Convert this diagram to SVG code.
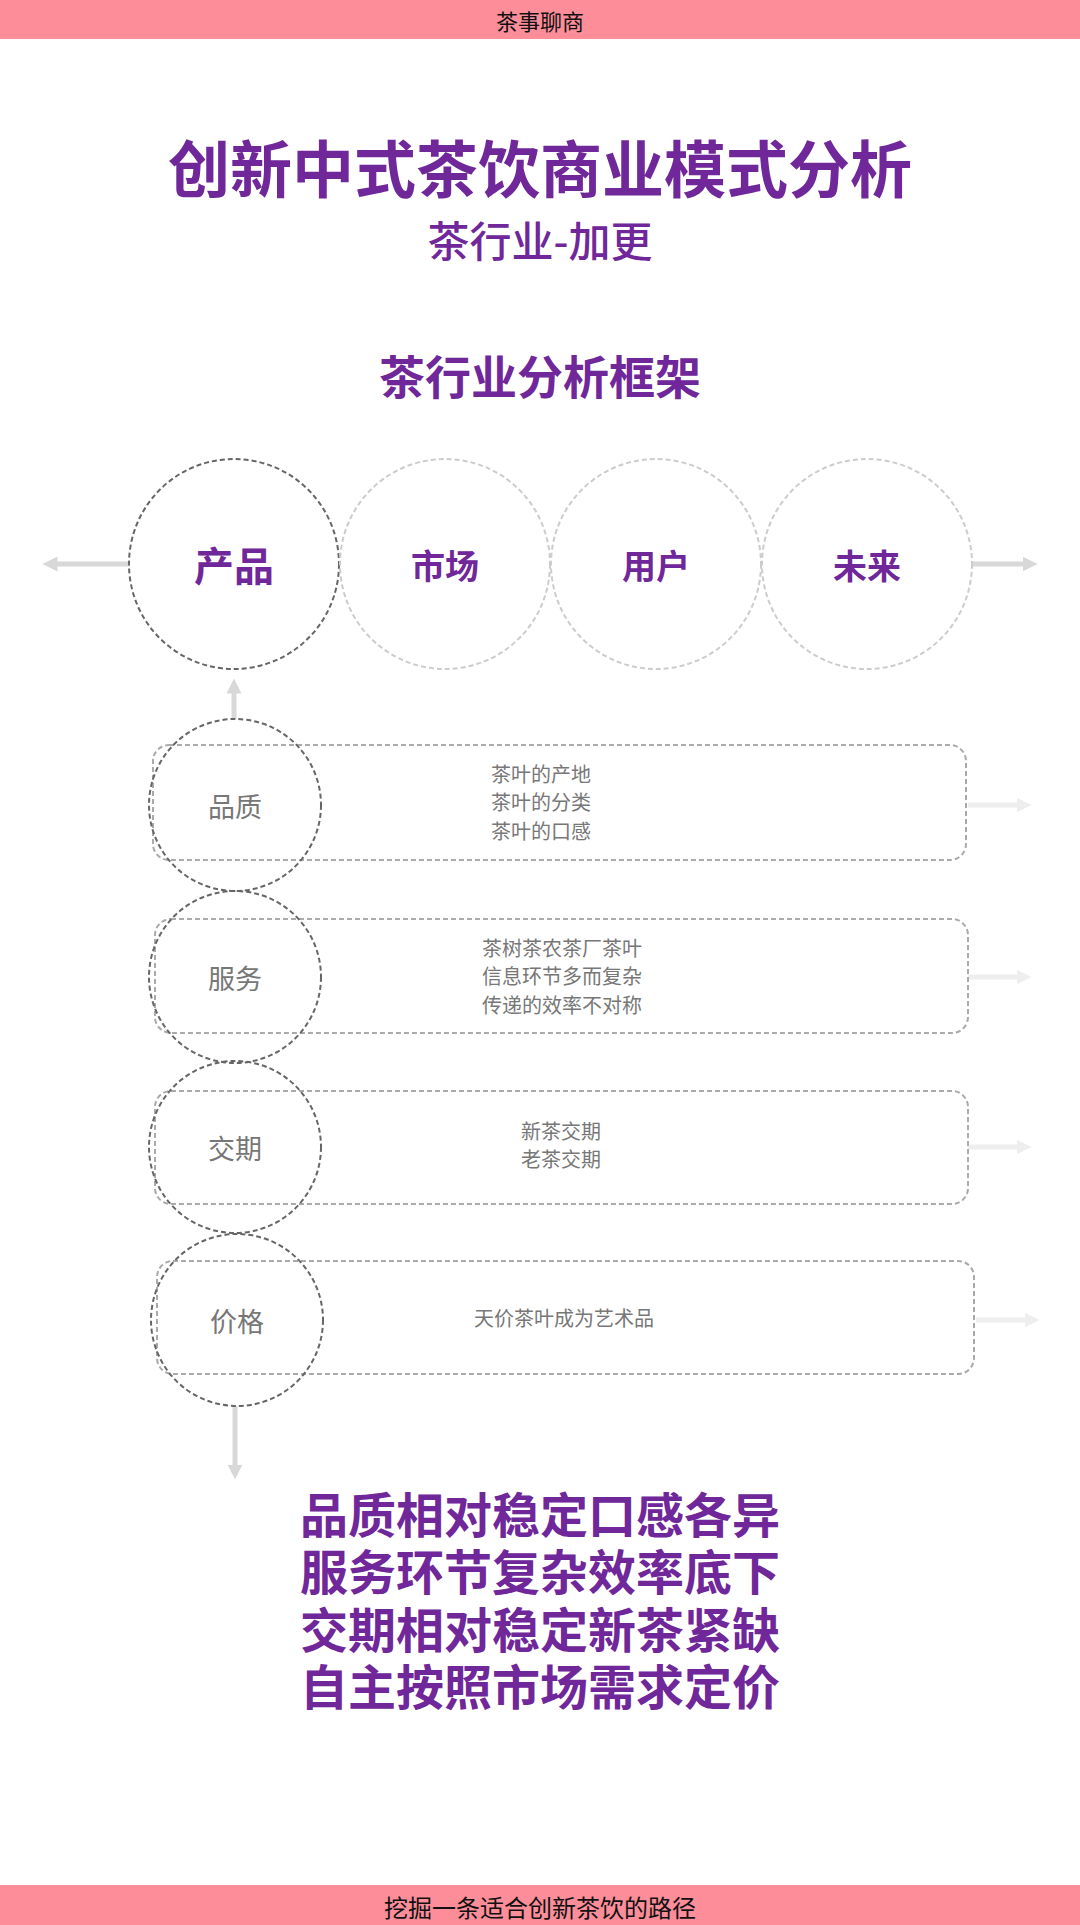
<svg xmlns="http://www.w3.org/2000/svg" width="1080" height="1925" viewBox="0 0 1080 1925">
<style>
text{font-family:"Noto Sans CJK SC","Noto Sans",sans-serif;text-anchor:middle;dominant-baseline:central}
.p{fill:#70279a}
.bar{fill:#fd8d99}
.main{fill:none;stroke:#666;stroke-width:2;stroke-dasharray:5 3}
.lt{fill:none;stroke:#ccc;stroke-width:2;stroke-dasharray:5 3}
.box{fill:none;stroke:#aaa;stroke-width:2;stroke-dasharray:5 3}
.rl{fill:#777;font-size:27px}
.rt{fill:#777;font-size:20px}
.ar{stroke:#d8d8d8;stroke-width:5;fill:none}
.ar2{stroke:#eee;stroke-width:5;fill:none}
</style>
<defs>
<marker id="m" markerWidth="3" markerHeight="3" refX="1.5" refY="1.5" orient="auto"><path d="M0,0L3,1.5L0,3z" fill="#d8d8d8"/></marker>
<marker id="m2" markerWidth="3" markerHeight="3" refX="1.5" refY="1.5" orient="auto"><path d="M0,0L3,1.5L0,3z" fill="#eee"/></marker>
</defs>
<rect width="1080" height="1925" fill="#fff"/>
<rect class="bar" width="1080" height="39"/>
<text x="540" y="20" font-size="22" fill="#111">茶事聊商</text>
<text class="p" x="540" y="166" font-size="62" font-weight="bold">创新中式茶饮商业模式分析</text>
<text class="p" x="540" y="238" font-size="42" font-weight="500">茶行业-加更</text>
<text class="p" x="540" y="374" font-size="46" font-weight="bold">茶行业分析框架</text>
<g id="connectors">
<line class="ar" x1="130" y1="564" x2="50" y2="564" marker-end="url(#m)"/>
<line class="ar" x1="973" y1="564" x2="1030" y2="564" marker-end="url(#m)"/>
<line class="ar" x1="234" y1="719" x2="234" y2="686" marker-end="url(#m)"/>
<line class="ar" x1="235" y1="1406" x2="235" y2="1472" marker-end="url(#m)"/>
<line class="ar2" x1="968" y1="805" x2="1024" y2="805" marker-end="url(#m2)"/>
<line class="ar2" x1="968" y1="977" x2="1024" y2="977" marker-end="url(#m2)"/>
<line class="ar2" x1="968" y1="1147" x2="1024" y2="1147" marker-end="url(#m2)"/>
<line class="ar2" x1="976" y1="1320" x2="1032" y2="1320" marker-end="url(#m2)"/>
</g>
<g id="n-chanpin"><circle class="main" cx="234" cy="564" r="105"/><text class="p" x="234" y="564" font-size="40" font-weight="bold">产品</text></g>
<g id="n-shichang"><circle class="lt" cx="445" cy="564" r="105"/><text class="p" x="445" y="564" font-size="34" font-weight="bold">市场</text></g>
<g id="n-yonghu"><circle class="lt" cx="656" cy="564" r="105"/><text class="p" x="656" y="564" font-size="34" font-weight="bold">用户</text></g>
<g id="n-weilai"><circle class="lt" cx="867" cy="564" r="105"/><text class="p" x="867" y="564" font-size="34" font-weight="bold">未来</text></g>
<g id="r1"><rect class="box" x="153" y="745" width="813" height="115" rx="16" fill="#fff"/><ellipse class="main" cx="235" cy="805" rx="86" ry="86" fill="#fff"/><text class="rl" x="235" y="805">品质</text>
<text class="rt" x="541" y="773">茶叶的产地</text><text class="rt" x="541" y="801">茶叶的分类</text><text class="rt" x="541" y="830">茶叶的口感</text></g>
<g id="r2"><rect class="box" x="155" y="919" width="813" height="114" rx="16" fill="#fff"/><ellipse class="main" cx="235" cy="977" rx="86" ry="86" fill="#fff"/><text class="rl" x="235" y="977">服务</text>
<text class="rt" x="562" y="947">茶树茶农茶厂茶叶</text><text class="rt" x="562" y="975">信息环节多而复杂</text><text class="rt" x="562" y="1004">传递的效率不对称</text></g>
<g id="r3"><rect class="box" x="155" y="1091" width="813" height="113" rx="16" fill="#fff"/><ellipse class="main" cx="235" cy="1147" rx="86" ry="86" fill="#fff"/><text class="rl" x="235" y="1147">交期</text>
<text class="rt" x="561" y="1130">新茶交期</text><text class="rt" x="561" y="1158">老茶交期</text></g>
<g id="r4"><rect class="box" x="157" y="1261" width="817" height="113" rx="16" fill="#fff"/><ellipse class="main" cx="237" cy="1320" rx="86" ry="86" fill="#fff"/><text class="rl" x="237" y="1320">价格</text>
<text class="rt" x="564" y="1317">天价茶叶成为艺术品</text></g>
<g class="p" font-weight="bold" font-size="48">
<text x="540" y="1512">品质相对稳定口感各异</text>
<text x="540" y="1569">服务环节复杂效率底下</text>
<text x="540" y="1627">交期相对稳定新茶紧缺</text>
<text x="540" y="1684">自主按照市场需求定价</text>
</g>
<rect class="bar" y="1885" width="1080" height="40"/>
<text x="540" y="1906" font-size="24" fill="#111">挖掘一条适合创新茶饮的路径</text>
</svg>
